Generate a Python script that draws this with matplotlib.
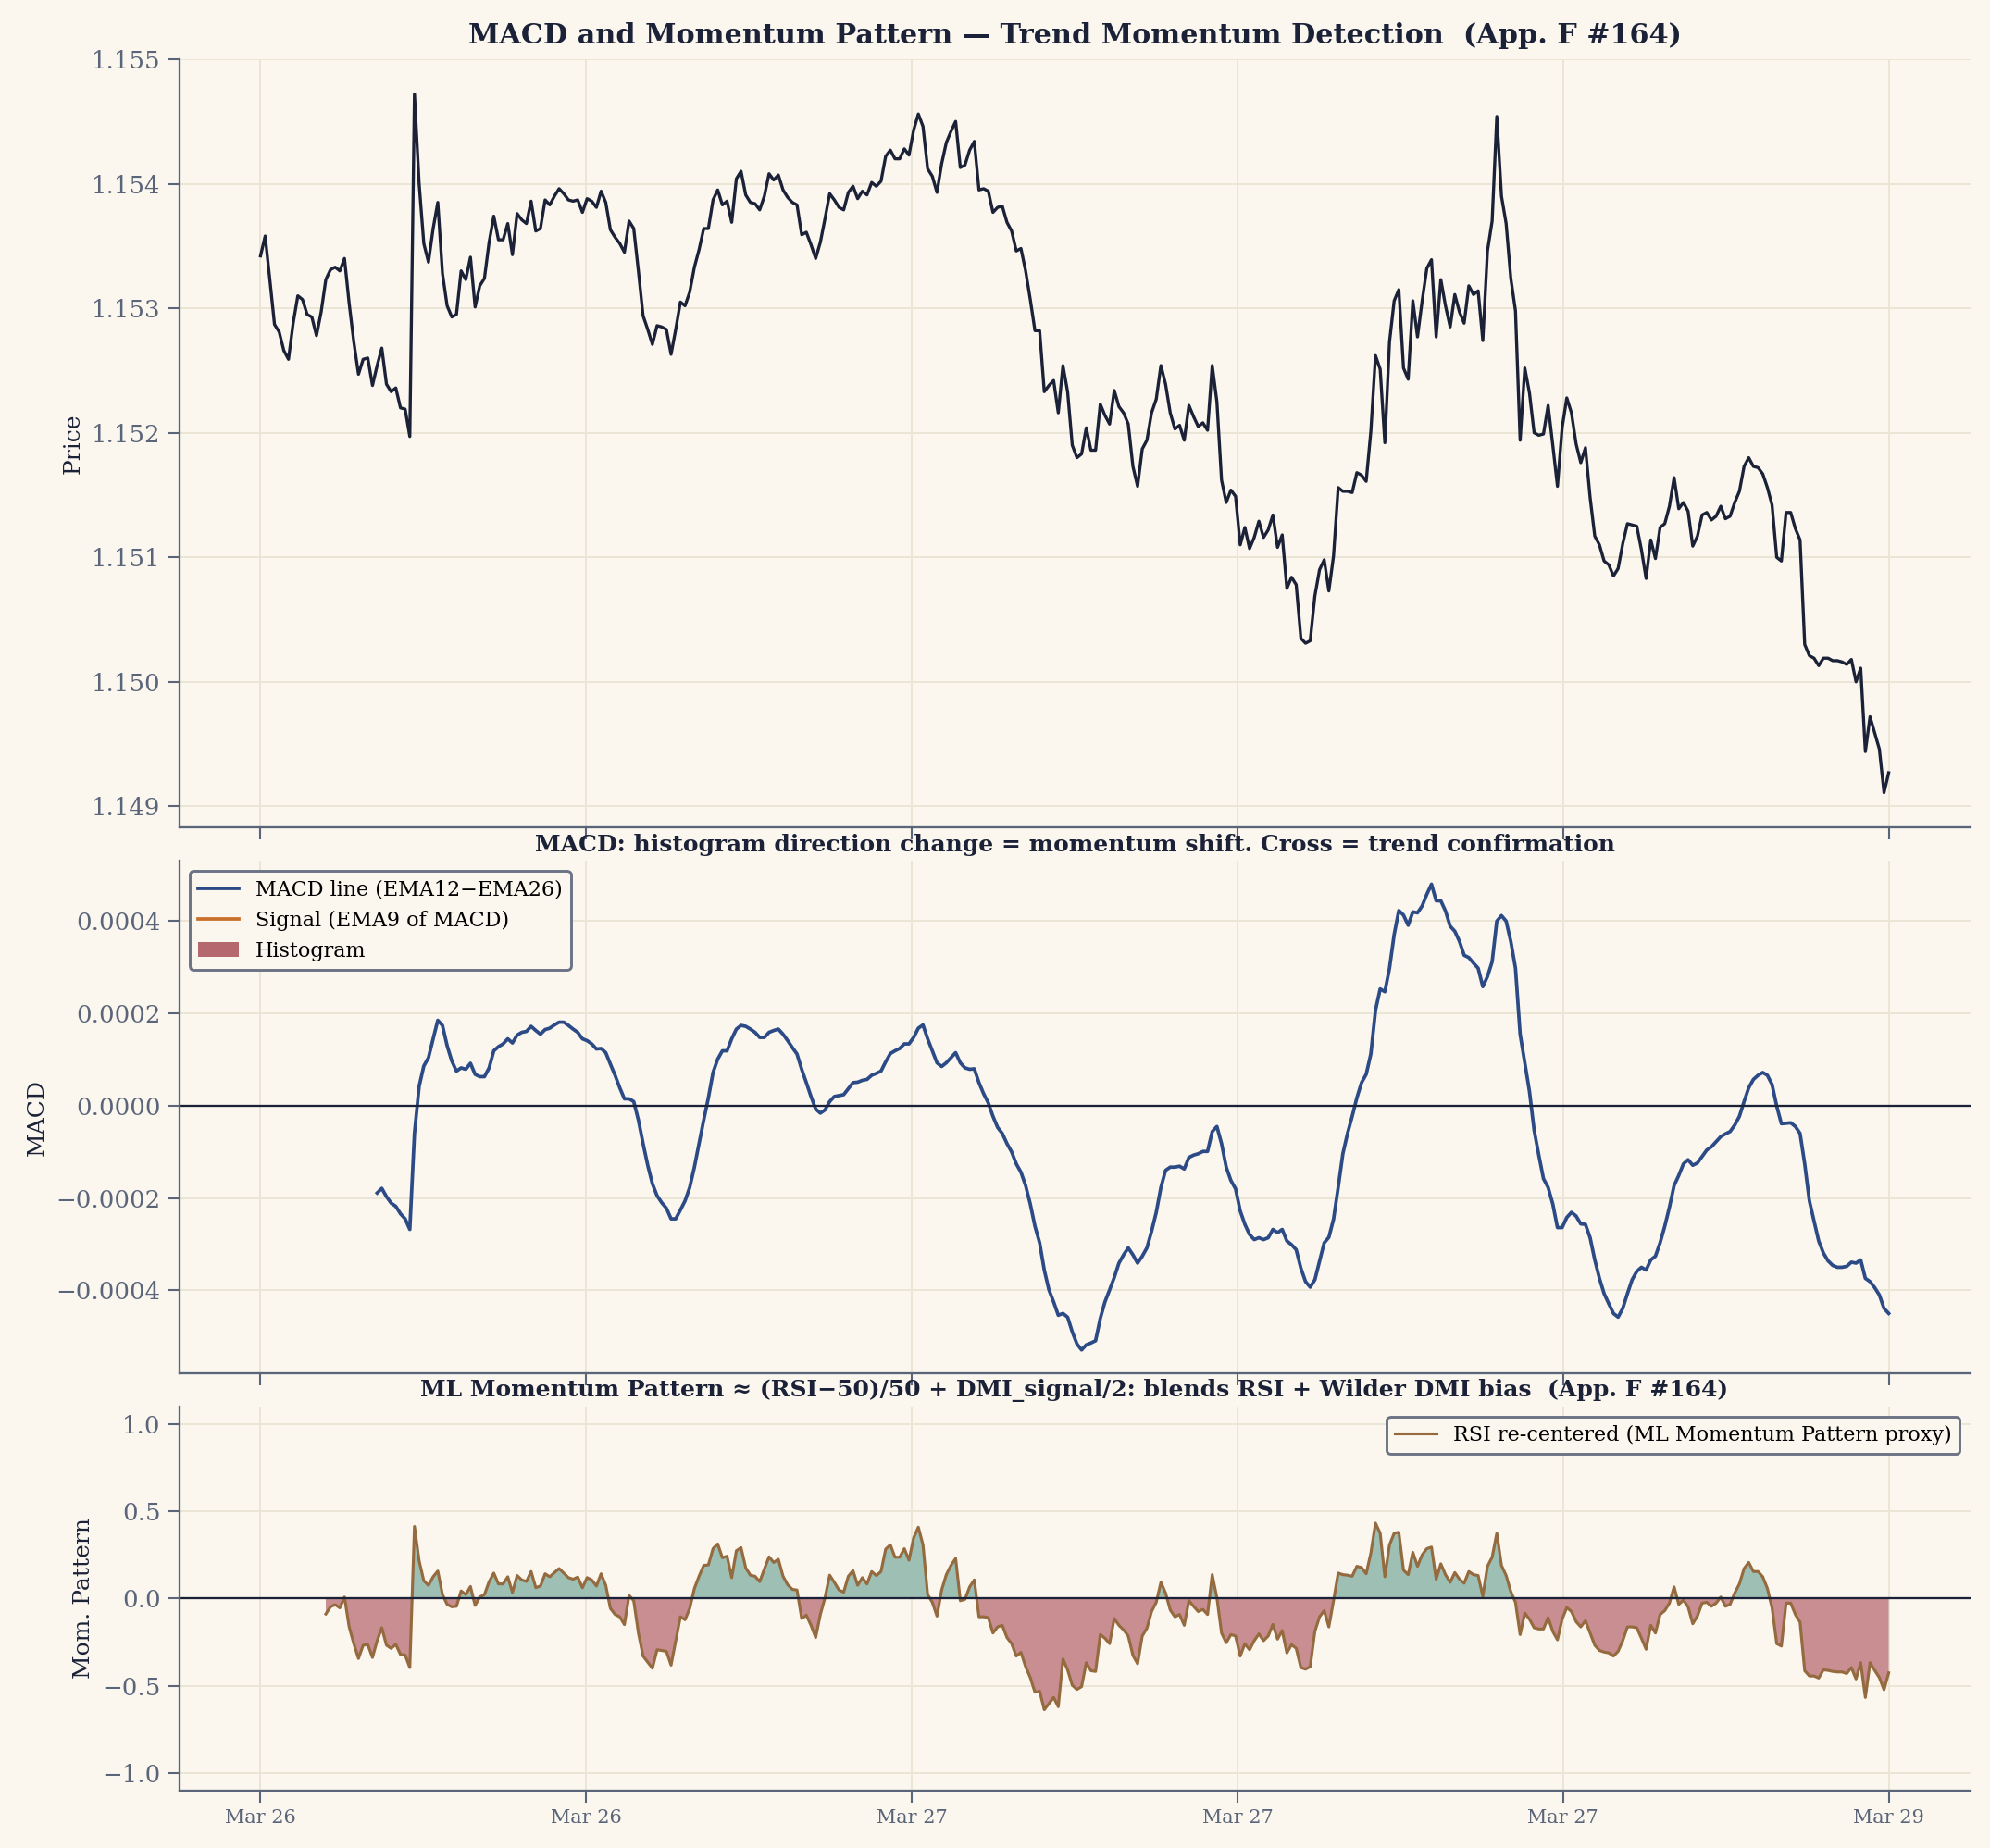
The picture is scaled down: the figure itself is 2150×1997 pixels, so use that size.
import numpy as np
import matplotlib
matplotlib.use("Agg")
import matplotlib.pyplot as plt
from matplotlib.patches import Patch
from matplotlib.lines import Line2D

# ---- data (one value per bar, bar index = position) ----
price = [
    1.15342, 1.15358, 1.15323, 1.15287, 1.15281, 1.15266, 1.15259, 1.15288, 1.15310, 1.15307,
    1.15295, 1.15293, 1.15278, 1.15297, 1.15323, 1.15331, 1.15333, 1.15330, 1.15340, 1.15304,
    1.15273, 1.15247, 1.15259, 1.15260, 1.15238, 1.15254, 1.15268, 1.15239, 1.15233, 1.15236,
    1.15220, 1.15219, 1.15197, 1.15472, 1.15400, 1.15352, 1.15337, 1.15364, 1.15385, 1.15328,
    1.15302, 1.15293, 1.15295, 1.15330, 1.15323, 1.15341, 1.15301, 1.15318, 1.15324, 1.15353,
    1.15374, 1.15355, 1.15355, 1.15368, 1.15343, 1.15376, 1.15371, 1.15368, 1.15386, 1.15362,
    1.15364, 1.15387, 1.15383, 1.15390, 1.15396, 1.15392, 1.15387, 1.15386, 1.15387, 1.15377,
    1.15388, 1.15386, 1.15381, 1.15394, 1.15385, 1.15363, 1.15357, 1.15352, 1.15345, 1.15370,
    1.15364, 1.15330, 1.15294, 1.15283, 1.15271, 1.15286, 1.15285, 1.15283, 1.15263, 1.15283,
    1.15305, 1.15302, 1.15313, 1.15333, 1.15347, 1.15364, 1.15364, 1.15387, 1.15395, 1.15383,
    1.15386, 1.15369, 1.15404, 1.15410, 1.15391, 1.15385, 1.15384, 1.15379, 1.15390, 1.15408,
    1.15403, 1.15407, 1.15395, 1.15389, 1.15385, 1.15383, 1.15359, 1.15361, 1.15351, 1.15340,
    1.15353, 1.15372, 1.15392, 1.15387, 1.15381, 1.15379, 1.15393, 1.15398, 1.15388, 1.15394,
    1.15391, 1.15401, 1.15398, 1.15402, 1.15422, 1.15427, 1.15420, 1.15420, 1.15428, 1.15423,
    1.15443, 1.15456, 1.15446, 1.15412, 1.15406, 1.15393, 1.15416, 1.15433, 1.15442, 1.15450,
    1.15413, 1.15415, 1.15427, 1.15434, 1.15395, 1.15396, 1.15394, 1.15377, 1.15381, 1.15382,
    1.15369, 1.15362, 1.15346, 1.15348, 1.15330, 1.15307, 1.15282, 1.15282, 1.15233, 1.15238,
    1.15242, 1.15216, 1.15254, 1.15233, 1.15190, 1.15180, 1.15183, 1.15204, 1.15186, 1.15186,
    1.15223, 1.15214, 1.15207, 1.15234, 1.15221, 1.15216, 1.15207, 1.15173, 1.15157, 1.15187,
    1.15194, 1.15216, 1.15227, 1.15254, 1.15239, 1.15216, 1.15203, 1.15206, 1.15194, 1.15222,
    1.15213, 1.15205, 1.15208, 1.15202, 1.15254, 1.15225, 1.15162, 1.15144, 1.15154, 1.15149,
    1.15110, 1.15124, 1.15107, 1.15116, 1.15129, 1.15116, 1.15122, 1.15134, 1.15108, 1.15118,
    1.15075, 1.15084, 1.15078, 1.15035, 1.15031, 1.15033, 1.15069, 1.15090, 1.15098, 1.15073,
    1.15101, 1.15156, 1.15153, 1.15153, 1.15152, 1.15168, 1.15166, 1.15161, 1.15201, 1.15262,
    1.15251, 1.15192, 1.15273, 1.15306, 1.15315, 1.15252, 1.15243, 1.15306, 1.15277, 1.15306,
    1.15332, 1.15339, 1.15277, 1.15323, 1.15302, 1.15285, 1.15311, 1.15297, 1.15288, 1.15318,
    1.15311, 1.15314, 1.15274, 1.15346, 1.15370, 1.15454, 1.15390, 1.15368, 1.15324, 1.15298,
    1.15194, 1.15252, 1.15232, 1.15200, 1.15198, 1.15199, 1.15222, 1.15190, 1.15157, 1.15204,
    1.15228, 1.15216, 1.15191, 1.15176, 1.15188, 1.15148, 1.15117, 1.15110, 1.15097, 1.15094,
    1.15085, 1.15091, 1.15111, 1.15127, 1.15126, 1.15125, 1.15106, 1.15083, 1.15114, 1.15099,
    1.15124, 1.15127, 1.15141, 1.15164, 1.15139, 1.15144, 1.15137, 1.15109, 1.15117, 1.15134,
    1.15136, 1.15130, 1.15133, 1.15141, 1.15131, 1.15133, 1.15144, 1.15153, 1.15173, 1.15180,
    1.15173, 1.15172, 1.15167, 1.15156, 1.15142, 1.15100, 1.15097, 1.15136, 1.15136, 1.15123,
    1.15114, 1.15030, 1.15021, 1.15019, 1.15013, 1.15019, 1.15019, 1.15017, 1.15017, 1.15016,
    1.15014, 1.15018, 1.15000, 1.15011, 1.14944, 1.14972, 1.14959, 1.14946, 1.14911, 1.14927,
]

# MACD line, in units of 1e-4, first value at bar 25
macd_start = 25
macd_e4 = [
    -1.89, -1.79, -1.97, -2.11, -2.18, -2.34, -2.45, -2.68,
    -0.60, 0.42, 0.86, 1.04, 1.45, 1.85, 1.74,
    1.30, 0.97, 0.75, 0.82, 0.79, 0.92, 0.68, 0.63, 0.63, 0.82,
    1.19, 1.28, 1.34, 1.45, 1.36, 1.53, 1.59, 1.61, 1.72, 1.63,
    1.55, 1.65, 1.68, 1.75, 1.81, 1.81, 1.74, 1.66, 1.59, 1.45,
    1.41, 1.34, 1.23, 1.24, 1.15, 0.90, 0.66, 0.39, 0.15, 0.15,
    0.09, -0.31, -0.82, -1.29, -1.69, -1.95, -2.10, -2.22, -2.45, -2.45,
    -2.26, -2.06, -1.77, -1.33, -0.82, -0.31, 0.17, 0.72, 1.01, 1.19,
    1.19, 1.45, 1.66, 1.74, 1.72, 1.66, 1.59, 1.48, 1.48, 1.59,
    1.63, 1.66, 1.55, 1.41, 1.26, 1.12, 0.79, 0.50, 0.20, -0.07,
    -0.16, -0.09, 0.09, 0.20, 0.22, 0.24, 0.37, 0.50, 0.51, 0.55,
    0.57, 0.66, 0.70, 0.75, 0.95, 1.13, 1.19, 1.24, 1.34, 1.34,
    1.48, 1.68, 1.75, 1.45, 1.19, 0.93, 0.85, 0.93, 1.04, 1.15,
    0.93, 0.82, 0.79, 0.80, 0.50, 0.26, 0.06, -0.23, -0.47, -0.60,
    -0.82, -1.00, -1.26, -1.44, -1.73, -2.13, -2.61, -2.97, -3.56, -3.99,
    -4.25, -4.54, -4.50, -4.58, -4.90, -5.16, -5.29, -5.18, -5.14, -5.09,
    -4.61, -4.25, -3.99, -3.72, -3.41, -3.23, -3.08, -3.23, -3.41, -3.26,
    -3.08, -2.72, -2.31, -1.77, -1.40, -1.33, -1.33, -1.31, -1.37, -1.12,
    -1.07, -1.04, -0.99, -0.99, -0.56, -0.45, -0.82, -1.33, -1.62, -1.80,
    -2.28, -2.57, -2.79, -2.90, -2.86, -2.90, -2.86, -2.68, -2.75, -2.68,
    -2.93, -3.01, -3.12, -3.52, -3.81, -3.93, -3.77, -3.37, -2.97, -2.85,
    -2.46, -1.77, -1.04, -0.60, -0.23, 0.17, 0.50, 0.68, 1.12, 2.07,
    2.53, 2.47, 2.98, 3.71, 4.23, 4.13, 3.91, 4.20, 4.18, 4.33,
    4.58, 4.80, 4.44, 4.44, 4.22, 3.89, 3.78, 3.56, 3.26, 3.21,
    3.09, 2.98, 2.58, 2.80, 3.12, 4.00, 4.12, 4.00, 3.56, 2.98,
    1.55, 0.93, 0.31, -0.53, -1.07, -1.58, -1.77, -2.13, -2.64, -2.64,
    -2.42, -2.31, -2.39, -2.56, -2.57, -2.86, -3.34, -3.74, -4.07, -4.29,
    -4.50, -4.58, -4.39, -4.07, -3.77, -3.59, -3.50, -3.56, -3.34, -3.26,
    -2.97, -2.61, -2.20, -1.73, -1.51, -1.26, -1.17, -1.29, -1.24, -1.10,
    -0.96, -0.89, -0.78, -0.67, -0.61, -0.56, -0.42, -0.23, 0.09, 0.39,
    0.57, 0.66, 0.72, 0.66, 0.46, -0.01, -0.39, -0.38, -0.37, -0.45,
    -0.60, -1.26, -2.06, -2.50, -2.93, -3.19, -3.36, -3.46, -3.50, -3.50,
    -3.48, -3.39, -3.41, -3.34, -3.74, -3.81, -3.94, -4.10, -4.39, -4.50,
]

# momentum pattern, first value at bar 14
mom_start = 14
mom = [
    -0.088, -0.047, -0.035, -0.053, 0.009, -0.162,
    -0.258, -0.343, -0.267, -0.264, -0.337, -0.241, -0.167, -0.267, -0.285, -0.262,
    -0.320, -0.323, -0.395, 0.413, 0.216, 0.102, 0.076, 0.125, 0.158, 0.023,
    -0.033, -0.047, -0.044, 0.044, 0.023, 0.069, -0.039, 0.009, 0.023, 0.097,
    0.146, 0.084, 0.084, 0.125, 0.035, 0.132, 0.107, 0.098, 0.155, 0.063,
    0.072, 0.142, 0.125, 0.149, 0.172, 0.146, 0.120, 0.111, 0.123, 0.062,
    0.120, 0.107, 0.072, 0.142, 0.076, -0.056, -0.091, -0.104, -0.149, 0.018,
    -0.012, -0.197, -0.329, -0.364, -0.399, -0.293, -0.297, -0.302, -0.381, -0.241,
    -0.104, -0.121, -0.056, 0.058, 0.128, 0.190, 0.193, 0.286, 0.313, 0.234,
    0.243, 0.120, 0.274, 0.292, 0.176, 0.134, 0.128, 0.097, 0.169, 0.239,
    0.207, 0.225, 0.128, 0.079, 0.053, 0.049, -0.114, -0.095, -0.153, -0.223,
    -0.091, 0.005, 0.134, 0.093, 0.049, 0.037, 0.128, 0.160, 0.076, 0.120,
    0.084, 0.155, 0.132, 0.155, 0.283, 0.308, 0.237, 0.237, 0.286, 0.220,
    0.348, 0.409, 0.308, 0.023, -0.021, -0.100, 0.049, 0.137, 0.190, 0.230,
    -0.012, -0.004, 0.067, 0.107, -0.104, -0.104, -0.109, -0.197, -0.162, -0.153,
    -0.223, -0.258, -0.329, -0.308, -0.390, -0.452, -0.536, -0.530, -0.636, -0.601,
    -0.566, -0.619, -0.346, -0.408, -0.496, -0.520, -0.504, -0.367, -0.413, -0.417,
    -0.206, -0.227, -0.258, -0.114, -0.153, -0.179, -0.214, -0.325, -0.373, -0.214,
    -0.170, -0.074, -0.021, 0.093, 0.032, -0.065, -0.104, -0.091, -0.153, -0.012,
    -0.044, -0.074, -0.062, -0.091, 0.137, 0.005, -0.197, -0.253, -0.206, -0.214,
    -0.329, -0.258, -0.293, -0.241, -0.202, -0.241, -0.214, -0.148, -0.232, -0.183,
    -0.311, -0.264, -0.285, -0.395, -0.404, -0.390, -0.188, -0.104, -0.069, -0.162,
    -0.012, 0.146, 0.137, 0.134, 0.128, 0.185, 0.178, 0.142, 0.260, 0.432,
    0.374, 0.125, 0.308, 0.374, 0.380, 0.163, 0.137, 0.265, 0.185, 0.251,
    0.286, 0.295, 0.111, 0.199, 0.137, 0.093, 0.149, 0.111, 0.088, 0.155,
    0.137, 0.132, 0.014, 0.185, 0.237, 0.374, 0.190, 0.132, 0.040, -0.021,
    -0.206, -0.083, -0.118, -0.167, -0.174, -0.174, -0.109, -0.188, -0.236, -0.118,
    -0.051, -0.074, -0.132, -0.162, -0.127, -0.197, -0.267, -0.297, -0.306, -0.311,
    -0.329, -0.302, -0.241, -0.162, -0.162, -0.167, -0.227, -0.290, -0.153, -0.197,
    -0.091, -0.069, -0.026, 0.067, -0.033, -0.009, -0.047, -0.144, -0.100, -0.026,
    -0.021, -0.044, -0.026, 0.009, -0.044, -0.033, 0.032, 0.084, 0.172, 0.207,
    0.155, 0.155, 0.125, 0.058, -0.053, -0.258, -0.272, -0.026, -0.026, -0.091,
    -0.135, -0.413, -0.443, -0.443, -0.455, -0.408, -0.411, -0.417, -0.420, -0.420,
    -0.429, -0.395, -0.460, -0.367, -0.566, -0.367, -0.411, -0.452, -0.522, -0.425,
]

tick_labels = ["Mar 26", "Mar 26", "Mar 27", "Mar 27", "Mar 27", "Mar 29"]

# ---- style ----
BG = "#FBF7EF"
INK = "#1B2238"
SLATE = "#5B657A"
GRID = "#EBE4D5"
PRICE_C = "#1B2238"
MACD_C = "#2C4A86"
SIG_C = "#C8702A"
HIST_C = "#B5686E"
MOM_C = "#946A3E"
POS_C = "#9EBFB4"
NEG_C = "#C88E91"

plt.rcParams["font.family"] = ["DejaVu Serif"]

x = np.arange(len(price))
mx = np.arange(macd_start, macd_start + len(macd_e4))
macd = np.array(macd_e4) * 1e-4
kx = np.arange(mom_start, mom_start + len(mom))
mom = np.array(mom)

fig, axes = plt.subplots(3, 1, figsize=(2150 / 150, 1997 / 150), dpi=150, sharex=True,
                         gridspec_kw={"height_ratios": [3, 2, 1.5]})
fig.patch.set_facecolor(BG)
fig.subplots_adjust(left=0.09, right=0.99, top=0.968, bottom=0.031, hspace=0.06)
ax1, ax2, ax3 = axes

for ax in axes:
    ax.set_facecolor(BG)
    ax.grid(True, color=GRID, lw=0.9)
    ax.set_axisbelow(True)
    for s in ["top", "right"]:
        ax.spines[s].set_visible(False)
    for s in ["left", "bottom"]:
        ax.spines[s].set_color(SLATE)
        ax.spines[s].set_linewidth(1.1)
    ax.tick_params(colors=SLATE, labelsize=12.5, length=6, width=1)
    ax.tick_params(axis="x", labelsize=10)

# price
ax1.plot(x, price, color=PRICE_C, lw=1.6)
ax1.set_ylabel("Price", fontsize=12, color=INK)
ax1.set_title("MACD and Momentum Pattern — Trend Momentum Detection  (App. F #164)",
              fontsize=14.5, fontweight="bold", color=INK, pad=8)

# MACD
ax2.plot(mx, macd, color=MACD_C, lw=1.8)
ax2.axhline(0, color=INK, lw=1.1)
ax2.set_ylabel("MACD", fontsize=12, color=INK)
ax2.set_title("MACD: histogram direction change = momentum shift. Cross = trend confirmation",
              fontsize=12, fontweight="bold", color=INK, pad=5)
handles = [Line2D([], [], color=MACD_C, lw=1.8),
           Line2D([], [], color=SIG_C, lw=1.8),
           Patch(facecolor=HIST_C)]
leg = ax2.legend(handles, ["MACD line (EMA12\u2212EMA26)", "Signal (EMA9 of MACD)", "Histogram"],
                 loc="upper left", fontsize=10.7, facecolor=BG, edgecolor="#6B7385",
                 framealpha=1, borderaxespad=0.5)
leg.get_frame().set_linewidth(1.4)

# momentum pattern
ax3.fill_between(kx, mom, 0, where=mom >= 0, interpolate=True, color=POS_C, lw=0)
ax3.fill_between(kx, mom, 0, where=mom < 0, interpolate=True, color=NEG_C, lw=0)
ax3.plot(kx, mom, color=MOM_C, lw=1.5, label="RSI re-centered (ML Momentum Pattern proxy)")
ax3.axhline(0, color=INK, lw=1.1)
ax3.set_ylim(-1.1, 1.1)
ax3.set_yticks([-1.0, -0.5, 0.0, 0.5, 1.0])
ax3.set_ylabel("Mom. Pattern", fontsize=12, color=INK)
ax3.set_title("ML Momentum Pattern \u2248 (RSI\u221250)/50 + DMI_signal/2: blends RSI + Wilder DMI bias  (App. F #164)",
              fontsize=12, fontweight="bold", color=INK, pad=5)
leg3 = ax3.legend(loc="upper right", fontsize=10.7, facecolor=BG, edgecolor="#6B7385",
                  framealpha=1)
leg3.get_frame().set_linewidth(1.4)

ticks = np.linspace(0, len(price) - 1, len(tick_labels))
ax3.set_xticks(ticks)
ax3.set_xticklabels(tick_labels)

fig.savefig("out.png", dpi=150, facecolor=BG)
